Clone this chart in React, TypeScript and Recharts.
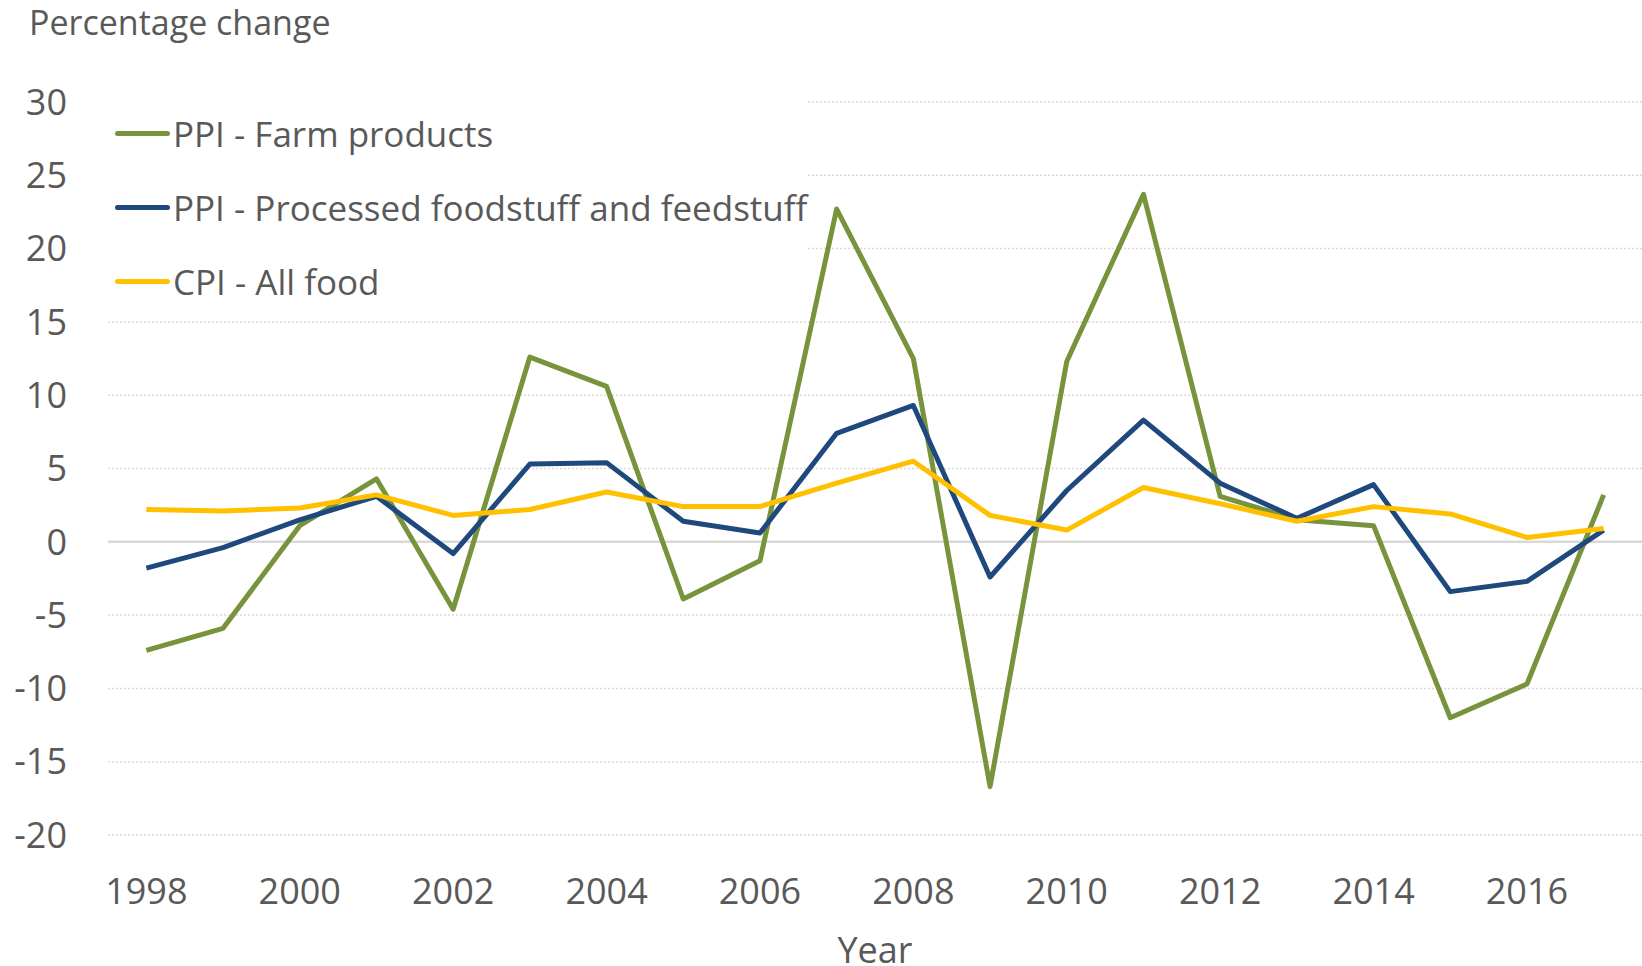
import React from 'react';
import { LineChart, Line, XAxis, YAxis, CartesianGrid, Legend, ReferenceLine } from 'recharts';

const years = [1998, 1999, 2000, 2001, 2002, 2003, 2004, 2005, 2006, 2007, 2008, 2009, 2010, 2011, 2012, 2013, 2014, 2015, 2016, 2017];
const farmProducts = [-7.4, -5.9, 1.1, 4.3, -4.6, 12.6, 10.6, -3.9, -1.3, 22.7, 12.5, -16.7, 12.3, 23.7, 3.1, 1.5, 1.1, -12.0, -9.7, 3.2];
const processedFood = [-1.8, -0.4, 1.5, 3.1, -0.8, 5.3, 5.4, 1.4, 0.6, 7.4, 9.3, -2.4, 3.5, 8.3, 4.0, 1.6, 3.9, -3.4, -2.7, 0.8];
const cpiAllFood = [2.2, 2.1, 2.3, 3.2, 1.8, 2.2, 3.4, 2.4, 2.4, 4.0, 5.5, 1.8, 0.8, 3.7, 2.6, 1.4, 2.4, 1.9, 0.3, 0.9];
const seriesNames = ['PPI - Farm products', 'PPI - Processed foodstuff and feedstuff', 'CPI - All food'];
const xTicks = [1998, 2000, 2002, 2004, 2006, 2008, 2010, 2012, 2014, 2016];
const yTicks = [-20, -15, -10, -5, 0, 5, 10, 15, 20, 25, 30];

const data = years.map((year, i) => ({
  year,
  farm: farmProducts[i],
  processed: processedFood[i],
  cpi: cpiAllFood[i],
}));

const FONT = '"Open Sans", sans-serif';
const TEXT = '#595959';

const LegendContent = (props: any) => {
  const items = [...(props.payload || [])].sort(
    (a: any, b: any) => seriesNames.indexOf(a.value) - seriesNames.indexOf(b.value)
  );
  return (
    <div style={{ background: '#fff', width: '100%', height: '100%' }}>
      {items.map((item: any) => (
        <div key={item.value} style={{ display: 'flex', alignItems: 'center', height: 74 }}>
          <div style={{ width: 55, height: 5, borderRadius: 3, background: item.color, marginLeft: 7, marginRight: 3 }} />
          <span style={{ fontFamily: FONT, fontSize: 35, color: TEXT, whiteSpace: 'nowrap' }}>{item.value}</span>
        </div>
      ))}
    </div>
  );
};

export default function App() {
  return (
    <div style={{ position: 'absolute', left: 0, top: 0, width: 1642, height: 966, background: '#fff' }}>
      <div style={{ position: 'absolute', left: 29, top: 5, fontFamily: FONT, fontSize: 34, lineHeight: 1, color: TEXT, whiteSpace: 'nowrap' }}>
        Percentage change
      </div>
      <LineChart width={1642} height={966} data={data} margin={{ top: 102, right: 0, bottom: 0, left: 0 }}>
        <CartesianGrid vertical={false} stroke="#d9d9d9" strokeWidth={1.5} strokeDasharray="2 2" />
        <XAxis
          dataKey="year"
          type="number"
          domain={[1997.5, 2017.5]}
          ticks={xTicks}
          axisLine={false}
          tickLine={false}
          tickSize={0}
          tickMargin={43}
          height={131}
          tick={{ fill: TEXT, fontSize: 36, fontFamily: FONT }}
          label={{ value: 'Year', position: 'insideBottom', offset: 3, fill: TEXT, fontSize: 36, fontFamily: FONT }}
        />
        <YAxis
          domain={[-20, 30]}
          ticks={yTicks}
          allowDataOverflow
          width={108}
          axisLine={false}
          tickLine={false}
          tickSize={0}
          tickMargin={41}
          tick={{ fill: TEXT, fontSize: 36, fontFamily: FONT }}
        />
        <ReferenceLine y={0} stroke="#d9d9d9" strokeWidth={2.5} />
        <Line type="linear" dataKey="farm" name={seriesNames[0]} stroke="#77933c" strokeWidth={5} strokeLinejoin="round" dot={false} activeDot={false} isAnimationActive={false} />
        <Line type="linear" dataKey="processed" name={seriesNames[1]} stroke="#1f497d" strokeWidth={5} strokeLinejoin="round" dot={false} activeDot={false} isAnimationActive={false} />
        <Line type="linear" dataKey="cpi" name={seriesNames[2]} stroke="#ffc000" strokeWidth={5} strokeLinejoin="round" dot={false} activeDot={false} isAnimationActive={false} />
        <Legend
          layout="vertical"
          align="center"
          verticalAlign="middle"
          content={<LegendContent />}
          wrapperStyle={{ left: 108, top: 96, width: 700, height: 222 }}
        />
      </LineChart>
    </div>
  );
}
